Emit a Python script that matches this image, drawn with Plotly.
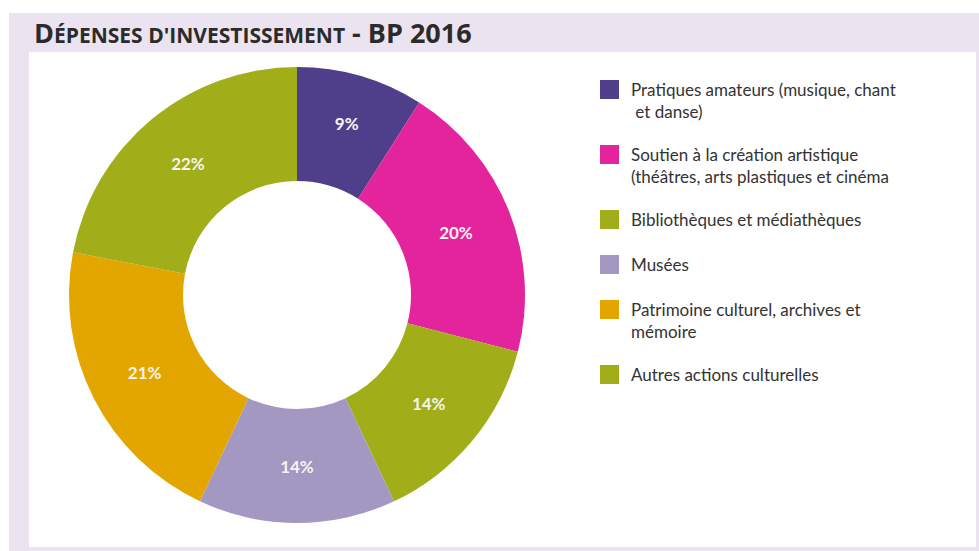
import plotly.graph_objects as go

# Investment spending breakdown, BP 2016 (percent of total)
categories = [
    "Pratiques amateurs (musique, chant<br> et danse)",
    "Soutien à la création artistique<br>(théâtres, arts plastiques et cinéma",
    "Bibliothèques et médiathèques",
    "Musées",
    "Patrimoine culturel, archives et<br>mémoire",
    "Autres actions culturelles",
]
shares = [9, 20, 14, 14, 21, 22]
colors = ["#4f3f8a", "#e4249c", "#a2ad1a", "#a398c2", "#e3a600", "#a2ad1a"]

W, H = 979, 551
LAVENDER = "#ebe4f0"


def px(x):
    return x / W


def py(y):
    return 1 - y / H


fig = go.Figure()

fig.add_trace(go.Pie(
    values=shares,
    labels=[c.replace("<br>", " ") for c in categories],
    marker=dict(colors=colors, line=dict(width=0)),
    hole=0.5,
    sort=False,
    direction="clockwise",
    rotation=0,
    texttemplate="%{value}%",
    textposition="inside",
    insidetextorientation="horizontal",
    textfont=dict(family="Lato", size=17, color="#f4f4ee", weight="bold"),
    hoverinfo="label+value",
    domain=dict(x=[px(69), px(525)], y=[py(523), py(67)]),
    showlegend=False,
))

shapes = [
    # framing band and white panel
    dict(type="rect", xref="paper", yref="paper", x0=px(9), x1=1, y0=0, y1=py(13),
         fillcolor=LAVENDER, line=dict(width=0), layer="below"),
    dict(type="rect", xref="paper", yref="paper", x0=px(29), x1=px(976), y0=py(547), y1=py(52),
         fillcolor="white", line=dict(width=0), layer="below"),
]

annotations = [
    dict(
        text=("<b>D<span style='font-size:21px'>ÉPENSES D'INVESTISSEMENT</span> - BP 2016</b>"),
        xref="paper", yref="paper", x=px(32), y=py(33), xanchor="left", yanchor="middle",
        showarrow=False, font=dict(family="Open Sans", size=27, color="#2b2b2b"),
    )
]

# Hand-laid legend: square swatch + wrapped label for each slice
line_h = 20
y_cur = 89
for label, col in zip(categories, colors):
    n_lines = label.count("<br>") + 1
    shapes.append(dict(
        type="rect", xref="paper", yref="paper",
        x0=px(600), x1=px(619), y0=py(y_cur + 10), y1=py(y_cur - 9),
        fillcolor=col, line=dict(width=0),
    ))
    annotations.append(dict(
        text=label, xref="paper", yref="paper", x=px(629), y=py(y_cur - 12),
        xanchor="left", yanchor="top", align="left", showarrow=False,
        font=dict(family="Lato", size=17, color="#333333"),
    ))
    y_cur += line_h * n_lines + 25

fig.update_layout(
    width=W, height=H,
    margin=dict(l=0, r=0, t=0, b=0),
    paper_bgcolor="white",
    plot_bgcolor="white",
    shapes=shapes,
    annotations=annotations,
)

fig.write_html("out.html")
